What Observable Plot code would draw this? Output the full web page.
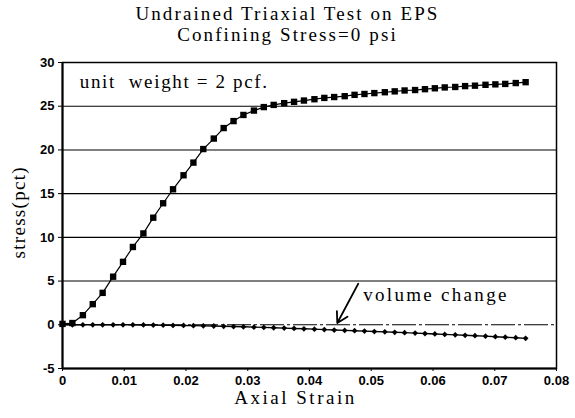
<!DOCTYPE html>
<html>
<head>
<meta charset="utf-8">
<script src="https://cdn.jsdelivr.net/npm/d3@7"></script>
<script src="https://cdn.jsdelivr.net/npm/@observablehq/plot@0.6"></script>
<style>
  html, body { margin: 0; padding: 0; background: #fff; }
  #title { width: 575px; height: 45px; box-sizing: border-box; padding-top: 3px;
           text-align: center; font-family: "Liberation Serif"; font-size: 19px;
           letter-spacing: 2.1px; line-height: 21px; color: #000; }
</style>
</head>
<body>
<div id="title"><div>Undrained Triaxial Test on EPS</div><div>Confining Stress=0 psi</div></div>
<div id="chart"></div>
<script>
const strain = [0, 0.0016, 0.0033, 0.0049, 0.0065, 0.0082, 0.0098, 0.0114, 0.0131, 0.0147,
  0.0163, 0.0179, 0.0196, 0.0212, 0.0228, 0.0245, 0.0261, 0.0277, 0.0293, 0.031,
  0.0326, 0.0342, 0.0359, 0.0375, 0.0391, 0.0408, 0.0424, 0.044, 0.0457, 0.0473,
  0.0489, 0.0505, 0.0522, 0.0538, 0.0554, 0.0571, 0.0587, 0.0603, 0.0619, 0.0636,
  0.0652, 0.0668, 0.0685, 0.0701, 0.0717, 0.0734, 0.075];
const stress = [0.1, 0.2, 1.1, 2.36, 3.65, 5.5, 7.2, 8.9, 10.45, 12.25,
  13.9, 15.5, 17.1, 18.55, 20.1, 21.3, 22.5, 23.3, 24.0, 24.5,
  24.9, 25.15, 25.35, 25.5, 25.65, 25.8, 25.95, 26.05, 26.15, 26.3,
  26.4, 26.5, 26.6, 26.7, 26.8, 26.85, 26.95, 27.05, 27.15, 27.2,
  27.3, 27.35, 27.45, 27.5, 27.55, 27.65, 27.75];
const volumeChange = [0, 0, 0, 0, 0, 0, 0, 0, -0.02, -0.03,
  -0.05, -0.07, -0.08, -0.1, -0.12, -0.14, -0.17, -0.2, -0.23, -0.27,
  -0.3, -0.34, -0.38, -0.42, -0.46, -0.5, -0.55, -0.6, -0.64, -0.68,
  -0.72, -0.77, -0.81, -0.86, -0.9, -0.95, -1.0, -1.05, -1.1, -1.15,
  -1.2, -1.25, -1.3, -1.36, -1.42, -1.48, -1.55];
const xTicks = [0, 0.01, 0.02, 0.03, 0.04, 0.05, 0.06, 0.07, 0.08];
const yTicks = [-5, 0, 5, 10, 15, 20, 25, 30];
const gridLevels = [5, 10, 15, 20, 25];
const zeroLevel = [0];
const unitLabel = [{x: 0.0028, y: 27.8, text: "unit  weight = 2 pcf."}];
const volLabel = [{x: 0.0487, y: 3.4, text: "volume change"}];
const volArrow = [{x1: 0.0479, y1: 4.7, x2: 0.0445, y2: 0.2}];

const stressData = strain.map((s, i) => ({strain: s, value: stress[i]}));
const volData = strain.map((s, i) => ({strain: s, value: volumeChange[i]}));
const serif = "Liberation Serif";
const txt = {fontFamily: serif, fontSize: 19, fontWeight: "normal", fill: "#000"};

const chart = Plot.plot({
  width: 575,
  height: 373,
  marginLeft: 62,
  marginRight: 19,
  marginTop: 17,
  marginBottom: 50,
  style: {fontFamily: "Liberation Sans, Arial, sans-serif", fontSize: "13px", fontWeight: "bold", color: "#000", background: "#fff"},
  x: {domain: [0, 0.08], ticks: xTicks, tickFormat: d => d === 0 ? "0" : d.toFixed(2), tickSize: 3, tickPadding: 4, label: null},
  y: {domain: [-5, 30], ticks: yTicks, tickFormat: d => String(d), tickSize: 4, tickPadding: 4, label: null},
  marks: [
    Plot.ruleY(gridLevels, {stroke: "#000", strokeWidth: 1.1}),
    Plot.ruleY(zeroLevel, {stroke: "#000", strokeWidth: 1.1, strokeDasharray: "24,3,3,3"}),
    Plot.frame({stroke: "#000", strokeWidth: 1.5}),
    Plot.ruleX([0], {stroke: "#000", strokeWidth: 2}),
    Plot.ruleY([-5], {stroke: "#000", strokeWidth: 2}),
    Plot.line(stressData, {x: "strain", y: "value", stroke: "#000", strokeWidth: 1.2}),
    Plot.dot(stressData, {x: "strain", y: "value", symbol: "square", r: 3.6, fill: "#000", stroke: "none"}),
    Plot.line(volData, {x: "strain", y: "value", stroke: "#000", strokeWidth: 1.4}),
    Plot.dot(volData, {x: "strain", y: "value", symbol: "diamond2", r: 2.6, fill: "#000", stroke: "none"}),
    Plot.text(unitLabel, {x: "x", y: "y", text: "text", textAnchor: "start", ...txt}),
    Plot.text(volLabel, {x: "x", y: "y", text: "text", textAnchor: "start", ...txt}),
    Plot.arrow(volArrow, {x1: "x1", y1: "y1", x2: "x2", y2: "y2", stroke: "#000", strokeWidth: 1.8, headLength: 10}),
    Plot.text(["Axial Strain"], {frameAnchor: "bottom", dy: 35, dx: -14, ...txt}),
    Plot.text(["stress(pct)"], {frameAnchor: "left", dx: -44, dy: 43, rotate: -90, ...txt})
  ]
});
const spacing = {"unit  weight = 2 pcf.": "1.65px", "volume change": "2.3px", "Axial Strain": "2.5px", "stress(pct)": "1.3px"};
d3.select(chart).selectAll("g[aria-label='text'] text").each(function() {
  const s = spacing[this.textContent];
  if (s) this.setAttribute("letter-spacing", s);
});
document.getElementById("chart").appendChild(chart);
</script>
</body>
</html>
